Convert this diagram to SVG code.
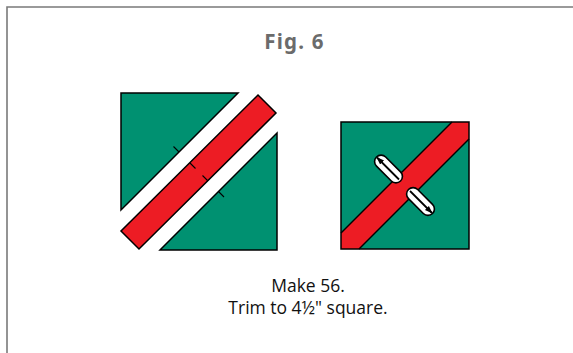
<svg xmlns="http://www.w3.org/2000/svg" width="573" height="353" viewBox="0 0 573 353">
<style>
.frame{fill:none;stroke:#7a7a7a;stroke-width:1.6}
.g{fill:#009171;stroke:#000;stroke-width:1.5;stroke-linejoin:miter}
.r{fill:#ed1c24;stroke:#000;stroke-width:1.5}
.rn{fill:#ed1c24;stroke:none}
.ln{stroke:#000;stroke-width:1.5;fill:none}
.tk{stroke:#000;stroke-width:1.1;fill:none}
.cap{fill:#fff;stroke:#000;stroke-width:1.6}
.ar{stroke:#000;stroke-width:1.8;fill:none}
.title{font-family:"Noto Sans","Open Sans",sans-serif;font-weight:bold;font-size:20.5px;fill:#6b6b6b;letter-spacing:1.2px}
.lbl{font-family:"Open Sans","Noto Sans",sans-serif;font-size:17.5px;fill:#111}
</style>
<defs>
<marker id="ah" viewBox="0 0 10 10" refX="9" refY="5" markerWidth="8" markerHeight="8" orient="auto" markerUnits="userSpaceOnUse">
<path d="M0,1.5 L10,5 L0,8.5 Z" fill="#000"/>
</marker>
</defs>
<path class="frame" d="M7,353 V7 H573"/>
<text class="title" x="294.5" y="48.5" text-anchor="middle">Fig. 6</text>
<g id="left-unit">
<polygon class="g" points="121,93 238,93 121,210"/>
<polygon class="g" points="277,133 277,250 160,250"/>
<polygon class="r" points="258,95 276,113 139,249 121,231"/>
<g class="tk">
<line x1="179" y1="152" x2="173.5" y2="146.5"/>
<line x1="190" y1="163" x2="195.5" y2="168.5"/>
<line x1="208" y1="181" x2="202.5" y2="175.5"/>
<line x1="218.5" y1="191.5" x2="224" y2="197"/>
</g>
</g>
<g id="right-unit">
<rect x="341" y="122" width="128" height="127" fill="#009171"/>
<polygon class="rn" points="452,122 469,122 469,139 359,249 341,249 341,233"/>
<line class="ln" x1="452" y1="122" x2="341" y2="233"/>
<line class="ln" x1="469" y1="139" x2="359" y2="249"/>
<rect x="341" y="122" width="128" height="127" fill="none" stroke="#000" stroke-width="1.5"/>
<g id="press-arrows">
<rect class="cap" x="371.5" y="162.5" width="34" height="13" rx="6.5" transform="rotate(45 388.5 169)"/>
<line class="ar" x1="399" y1="179.5" x2="377" y2="157.5" marker-end="url(#ah)"/>
<rect class="cap" x="403.5" y="195" width="34" height="13" rx="6.5" transform="rotate(45 420.5 201.5)"/>
<line class="ar" x1="410" y1="191" x2="432" y2="213" marker-end="url(#ah)"/>
</g>
</g>
<text class="lbl" x="308" y="292" text-anchor="middle">Make 56.</text>
<text class="lbl" x="308" y="314" text-anchor="middle">Trim to 4½" square.</text>
</svg>
